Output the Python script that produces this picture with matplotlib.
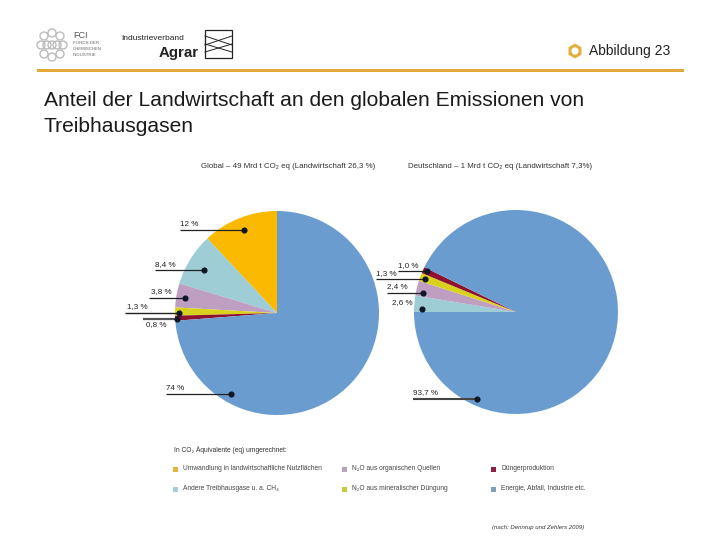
import matplotlib
matplotlib.use("Agg")
import matplotlib.pyplot as plt
from matplotlib.patches import Rectangle, RegularPolygon, Circle

# -------------------------
# data
# -------------------------
global_values = [12, 8.4, 3.8, 1.3, 0.8, 74]
global_colors = ["#fbb900", "#9ecdd6", "#bf9fc1", "#d9d21c", "#8e1230", "#6b9ccf"]
global_labels = ["12 %", "8,4 %", "3,8 %", "1,3 %", "0,8 %", "74 %"]

germany_values = [2.6, 2.4, 1.3, 1.0, 93.7]
germany_colors = ["#9ecdd6", "#bf9fc1", "#d9d21c", "#8e1230", "#6b9ccf"]
germany_labels = ["2,6 %", "2,4 %", "1,3 %", "1,0 %", "93,7 %"]

legend_names = [
    "Umwandlung in landwirtschaftliche Nutzflächen",
    "Andere Treibhausgase u. a. CH₄",
    "N₂O aus organischen Quellen",
    "N₂O aus mineralischer Düngung",
    "Düngerproduktion",
    "Energie, Abfall, Industrie etc.",
]
legend_colors = ["#e3b53c", "#a9cdd3", "#b9a3b8", "#c3cf3a", "#8e1f42", "#7f9fc0"]

W, H = 720, 540
SANS = ["Liberation Sans", "DejaVu Sans"]
plt.rcParams["font.family"] = SANS

fig = plt.figure(figsize=(W / 100, H / 100), dpi=100)

# overlay in pixel coordinates for the slide furniture
ax = fig.add_axes([0, 0, 1, 1], zorder=3)
ax.set_xlim(0, W)
ax.set_ylim(H, 0)
ax.axis("off")


def draw_pie(values, colors, start, clockwise, cx, cy, r):
    pie_ax = fig.add_axes([(cx - r) / W, 1 - (cy + r) / H, 2 * r / W, 2 * r / H], zorder=1)
    pie_ax.pie(values, colors=colors, startangle=start, counterclock=not clockwise,
               radius=1, normalize=True, wedgeprops={"linewidth": 0})
    pie_ax.set_xlim(-1, 1)
    pie_ax.set_ylim(-1, 1)


draw_pie(global_values, global_colors, 90, False, 277, 313, 102)
draw_pie(germany_values, germany_colors, 180, True, 516, 312, 102)


def callout(label, text_x, text_y, x0, x1, y, lw=0.9, line_color="#222222"):
    ax.text(text_x, text_y, label, fontsize=5.8, color="#222222", ha="left", va="center")
    if x0 is not None:
        ax.plot([x0, x1], [y, y], color=line_color, lw=lw, solid_capstyle="butt")
    ax.plot([x1], [y], "o", color="#101828", ms=3.4)


# left pie callouts
callout(global_labels[0], 180, 225, 180, 244, 230)
callout(global_labels[1], 155, 265, 155, 204, 270)
callout(global_labels[2], 151, 292, 149, 185, 298)
callout(global_labels[3], 127, 307, 125, 179, 313, lw=1.0)
callout(global_labels[4], 146, 325, 143, 177, 319, lw=1.6, line_color="#555555")
callout(global_labels[5], 166, 388, 166, 231, 394)

# right pie callouts
callout(germany_labels[3], 398, 266, 398, 427, 271)
callout(germany_labels[2], 376, 274, 376, 425, 279)
callout(germany_labels[1], 387, 287, 387, 423, 293)
callout(germany_labels[0], 392, 303, None, 422, 309)
callout(germany_labels[4], 413, 393, 413, 477, 399, lw=1.5, line_color="#444444")

# pie headers
ax.text(201, 167, "Global – 49 Mrd t CO₂ eq (Landwirtschaft 26,3 %)", fontsize=5.7,
        color="#333333", va="center")
ax.text(408, 167, "Deutschland – 1 Mrd t CO₂ eq (Landwirtschaft 7,3%)", fontsize=5.7,
        color="#333333", va="center")

# legend
ax.text(174, 450, "In CO₂ Äquivalente (eq) umgerechnet:", fontsize=4.8,
        color="#333333", va="center")
legend_x = [175, 175, 344, 344, 493, 493]
legend_y = [469, 489, 469, 489, 469, 489]
for name, color, x, y in zip(legend_names, legend_colors, legend_x, legend_y):
    ax.add_patch(Rectangle((x - 2, y - 2), 4.5, 4.5, color=color, lw=0))
    ax.text(x + 8, y, name, fontsize=4.8, color="#444444", va="center")

ax.text(492, 527, "(nach: Dennrup und Zehlers 2009)", fontsize=4.3,
        style="italic", color="#333333", va="center")

# title and page marker
ax.text(44, 101, "Anteil der Landwirtschaft an den globalen Emissionen von",
        fontsize=15.15, color="#1a1a1a", va="center")
ax.text(44, 127, "Treibhausgasen", fontsize=15.15, color="#1a1a1a", va="center")
ax.text(589, 51, "Abbildung 23", fontsize=10, color="#222222", va="center")
ax.add_patch(RegularPolygon((575, 51), 6, radius=7.5, color="#e3b040", lw=0))
ax.add_patch(Circle((575, 51), 3.6, color="white", lw=0))
ax.add_patch(Rectangle((37, 68.5), 647, 3.5, color="#e3a83a", lw=0))

# FCI logo, a ring of small circles
logo_x = [52, 44, 60, 41, 47, 57, 63, 44, 60, 52, 52]
logo_y = [33, 36, 36, 45, 45, 45, 45, 54, 54, 57, 45]
for x, y in zip(logo_x, logo_y):
    ax.add_patch(Circle((x, y), 4, fill=False, ec="#bcbcbc", lw=1.0))
ax.text(73, 35, "FCI", fontsize=6.5, color="#555555", va="center")
for y, line in zip([43, 49, 55], ["FONDS DER", "CHEMISCHEN", "INDUSTRIE"]):
    ax.text(73, y, line, fontsize=3.2, color="#666666", va="center")

# Agrar logo
ax.text(121, 39, "Industrieverband", fontsize=6, color="#222222", va="center")
ax.text(159, 53, "Agrar", fontsize=10.8, weight="bold", color="#222222", va="center")
ax.add_patch(Rectangle((205, 30), 27, 28, fill=False, ec="#222222", lw=0.9))
ax.plot([205, 232], [36, 45], color="#222222", lw=0.7)
ax.plot([205, 232], [45, 36], color="#222222", lw=0.7)
ax.plot([205, 232], [44, 52], color="#222222", lw=0.7)
ax.plot([205, 232], [52, 44], color="#222222", lw=0.7)

fig.savefig("out.png", dpi=100)
